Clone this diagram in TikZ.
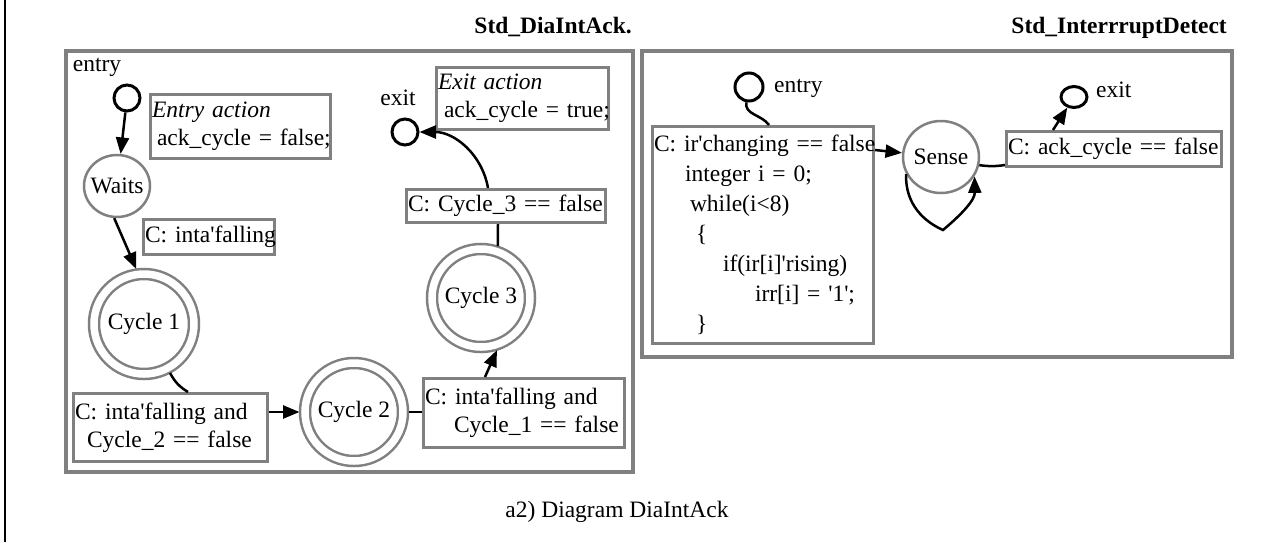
\documentclass[tikz,border=0pt]{standalone}
\usepackage{fontspec}
\setmainfont{Liberation Serif}
\usetikzlibrary{arrows.meta,shapes.geometric,calc}
\definecolor{fgray}{RGB}{128,128,128}
\newcommand\aq{\textquotesingle}
\begin{document}
\begin{tikzpicture}[x=1pt,y=1pt, inner sep=0pt,
  font=\fontsize{23.5}{28}\selectfont,
  frame/.style={draw=fgray, line width=3.5pt, anchor=north west},
  box/.style={draw=fgray, line width=3pt, anchor=north west, align=left, inner xsep=1.5pt, inner ysep=0pt},
  pseudo/.style={circle, draw=black, line width=3pt, minimum size=26pt},
  state/.style={ellipse, draw=fgray, line width=2.5pt},
  cyc/.style={circle, draw=fgray, line width=2.5pt, double=white, double distance=7.5pt, outer sep=5.5pt},
  arr/.style={-{Triangle[length=16.5pt,width=13pt]}, line width=2.5pt},
  lnk/.style={line width=2.5pt}]
\useasboundingbox (0,0) rectangle (1286,-542);

% left margin rule
\coordinate (ruleTop) at (5,0);
\coordinate (ruleBot) at (5,-542);
\draw[line width=2pt] (ruleTop) -- (ruleBot);

% titles and caption
\node[anchor=base east, font=\fontsize{23.5}{28}\selectfont\bfseries] (title1) at (632,-33) {Std\_DiaIntAck.};
\node[anchor=base east, font=\fontsize{23.5}{28}\selectfont\bfseries] (title2) at (1227,-33) {Std\_InterrruptDetect};
\node[anchor=base] (caption) at (617,-517) {a2) Diagram DiaIntAck};

% frames
\node[frame, minimum width=567pt, minimum height=421pt] (frameL) at (64,-49) {};
\node[frame, minimum width=590pt, minimum height=306pt] (frameR) at (640,-49) {};

% ---------- left diagram ----------
\node (lblEntryL) at (97,-67) {entry};
\node[pseudo] (entryL) at (127,-98) {};
\node[box, minimum width=180pt, minimum height=64pt, text width=177pt] (entryAct) at (149,-93)
  {\mbox{\textit{Entry action}}\\\mbox{\hspace*{5pt}ack\_cycle = false;}};
\node[state, minimum width=66pt, minimum height=62pt] (Waits) at (117,-186) {\makebox[0pt]{Waits}};
\node[box, minimum width=131pt, minimum height=35pt, text width=128pt] (cIf) at (142,-218)
  {\mbox{C: inta\aq falling}};
\node[cyc, minimum size=100pt] (Cycle1) at (144,-324) {Cycle 1};
\node[box, minimum width=194pt, minimum height=68pt, text width=191pt] (cAnd2) at (72,-392)
  {\mbox{C: inta\aq falling and}\\\mbox{\hspace*{12pt}Cycle\_2 == false}};
\node[cyc, minimum size=98pt] (Cycle2) at (354,-412) {Cycle 2};
\node[box, minimum width=201pt, minimum height=69pt, text width=198pt] (cAnd1) at (422,-377)
  {\mbox{C: inta\aq falling and}\\\mbox{\hspace*{29pt}Cycle\_1 == false}};
\node[cyc, minimum size=98pt] (Cycle3) at (481,-298) {Cycle 3};
\node[box, minimum width=199pt, minimum height=33pt, text width=196pt] (cC3) at (405,-188)
  {\mbox{C: Cycle\_3 == false}};
\node[pseudo] (exitL) at (405,-132) {};
\node (lblExitL) at (398,-98) {exit};
\node[box, minimum width=172pt, minimum height=62pt, text width=169pt] (exitAct) at (435,-66)
  {\mbox{\textit{Exit action}}\\\mbox{\hspace*{6pt}ack\_cycle = true;}};

\draw[arr] (entryL) -- (Waits);
\draw[arr] (Waits.-95) -- (Cycle1.98);
\draw[lnk] (Cycle1.-62) to[bend right=15] ([xshift=116pt]cAnd2.north west);
\draw[arr] (cAnd2.east |- Cycle2) -- (Cycle2);
\draw[lnk] (Cycle2) -- (cAnd1.west |- Cycle2);
\draw[arr] ([xshift=63pt]cAnd1.north west) -- (Cycle3.-73);
\draw[lnk] (Cycle3.72) -- ([xshift=93pt]cC3.south west);
\draw[arr] ([xshift=83pt]cC3.north west) to[out=100,in=0] (exitL);

% ---------- right diagram ----------
\node[pseudo, minimum size=28pt] (entryR) at (749,-87) {};
\node[anchor=west] (lblEntryR) at (774,-88) {entry};
\node[box, minimum width=221pt, minimum height=217pt, text width=218pt,
      font=\fontsize{23.5}{30}\selectfont] (bigBox) at (651,-125)
  {\mbox{C: ir\aq changing == false}\\
   \mbox{\hspace*{31pt}integer i = 0;}\\
   \mbox{\hspace*{36pt}while(i<8)}\\
   \mbox{\hspace*{42pt}\{}\\
   \mbox{\hspace*{69pt}if(ir[i]\aq rising)}\\
   \mbox{\hspace*{101pt}irr[i] = \aq 1\aq;}\\
   \mbox{\hspace*{42pt}\}}};
\node[state, minimum width=76pt, minimum height=72pt] (Sense) at (941,-157) {\makebox[0pt]{\raisebox{-5pt}{Sense}}};
\node[box, minimum width=215pt, minimum height=35pt, text width=212pt] (cAck) at (1005,-130)
  {\mbox{C: ack\_cycle == false}};
\node[ellipse, draw=black, line width=3pt, minimum width=26pt, minimum height=21pt] (exitR) at (1074,-97) {};
\node[anchor=west] (lblExitR) at (1096,-90) {exit};
\coordinate (cusp) at (943,-230);

\draw[lnk] (entryR) to[out=-100,in=125] ([xshift=118pt]bigBox.north west);
\draw[arr] ([yshift=-25pt]bigBox.north east) -- (Sense);
\draw[arr] (Sense.206) .. controls (905,-205) and (925,-222) .. (cusp)
  .. controls (962,-214) and (975,-200) .. (Sense.-30);
\draw[lnk] (Sense.-12) to[bend right=8] ([yshift=3pt]cAck.south west);
\draw[arr] ([xshift=48pt]cAck.north west) -- (exitR);
\end{tikzpicture}
\end{document}
